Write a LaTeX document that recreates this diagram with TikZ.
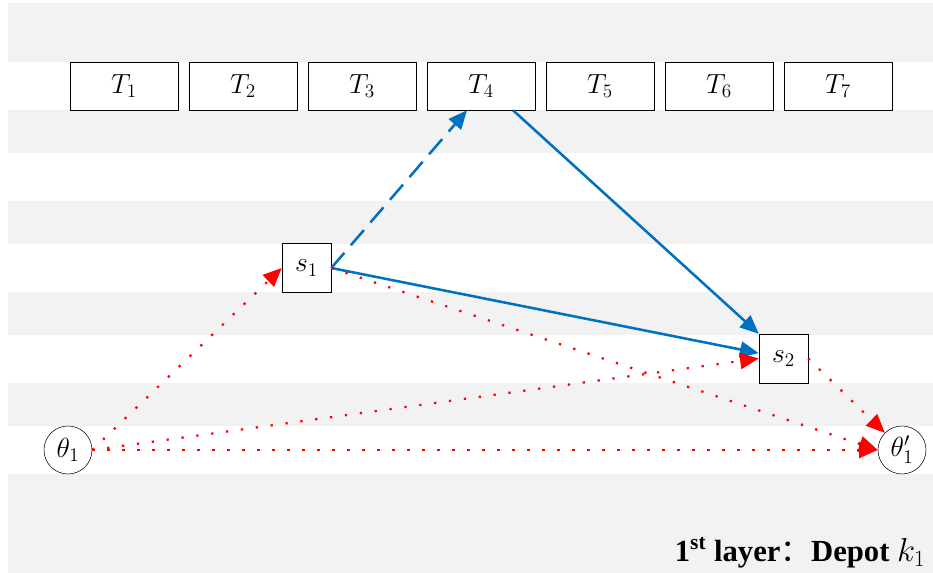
\documentclass[tikz,border=0pt]{standalone}
\usepackage{fontspec}
\setmainfont{Liberation Serif}
\newfontfamily\cjk{Noto Sans CJK SC}
\usetikzlibrary{arrows.meta}
\definecolor{bandgray}{HTML}{F2F2F2}
\definecolor{pptblue}{HTML}{0070C0}
\begin{document}
\begin{tikzpicture}[x=.75pt,y=-.75pt,
  tbox/.style={draw,fill=white,minimum width=81pt,minimum height=36pt,inner sep=0pt,font=\fontsize{22}{26}\selectfont},
  sbox/.style={draw,fill=white,minimum size=36.75pt,inner sep=0pt,font=\fontsize{22}{26}\selectfont},
  depot/.style={draw,circle,fill=white,minimum size=36pt,inner sep=0pt,font=\fontsize{22}{26}\selectfont},
  route/.style={pptblue,line width=1.9pt,-{Triangle[length=14pt,width=12pt]}},
  link/.style={red,line width=1.7pt,dash pattern=on 1.7pt off 9.55pt,-{Triangle[length=14pt,width=12pt]}}]
\useasboundingbox (0,0) rectangle (933,573);
% background bands
\foreach \y/\h in {3/59,110/43,201/43,292/43,383/43,474/99} \fill[bandgray] (8,\y) rectangle ++(925,\h);
\foreach \i in {1,...,7} \node[tbox] (T\i) at ({5+119*\i},86) {$T_{\i}$};
\node[sbox] (s1) at (306.5,268) {$s_1$}; \node[sbox] (s2) at (783.5,358.5) {$s_2$};
\node[depot] (th1) at (68,450) {$\theta_1$}; \node[depot] (th2) at (902,450) {$\theta_1'$};
% blue routes
\draw[route,dash pattern=on 15pt off 7.5pt] (s1.east) -- ([xshift=-10.5pt]T4.south);
\draw[route] ([xshift=24pt]T4.south) -- (s2.north west);
\draw[route] (s1.east) -- ([yshift=4pt]s2.west);
% red links
\draw[link] (th1.east) -- (s1.west); \draw[link] (th1.east) -- (s2.west);
\draw[link] (th1.east) -- (th2.west); \draw[link] (s1.east) -- (th2.west);
\draw[link] (s2.east) -- (th2.north west);
\node[anchor=base east,font=\fontsize{23}{27}\selectfont\bfseries] (lbl) at (930,562) {1\textsuperscript{st} layer{\cjk\mdseries ：}Depot $k_1$};
\end{tikzpicture}
\end{document}
